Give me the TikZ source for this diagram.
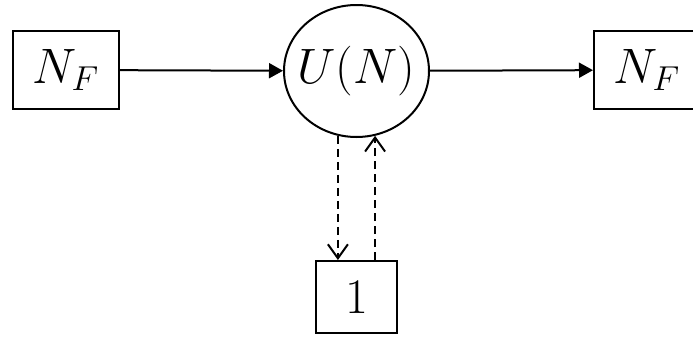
\documentclass[tikz,border=0pt]{standalone}
\usetikzlibrary{shapes.geometric,arrows.meta}
\begin{document}
\begin{tikzpicture} [
                x=0.5pt, y=-0.5pt,
                every node/.style={font=\fontsize{24}{28}\selectfont},
                flavour/.style={rectangle,draw,line width=1pt,minimum width=53pt,minimum height=39pt,inner sep=0pt},
                gauge/.style={ellipse,draw,line width=1pt,minimum width=72.5pt,minimum height=66pt,inner sep=0pt},
                single/.style={rectangle,draw,line width=1pt,minimum width=40.5pt,minimum height=36pt,inner sep=0pt},
                edge/.style = {draw,line width=1pt,-{Triangle[length=7pt,width=7.5pt]}},
                loop edge/.style = {draw,line width=1pt,dash pattern=on 4pt off 2.5pt,-{Straight Barb[length=7pt,width=10pt]}},
            ]
            \useasboundingbox (0,0) rectangle (693,338);
            \node[gauge] (u) at (356.5,71) {};
            \node (ulabel) at (u) {$U(N)$};
            \foreach \pos/\name in {
                    {(66,70)/in}, {(647,70)/out}}
                \node[flavour] (\name) at \pos {$N_F$};
            \node[single] (one) at (356.5,297) {$1$};
            \foreach \source/ \dest in {
                    in/u,u/out}
                \path[edge] (\source) -- (\dest);
            \path[loop edge] (u.254) -- (u.254 |- one.north);
            \path[loop edge] (u.286 |- one.north) -- (u.286);
        \end{tikzpicture}
\end{document}
